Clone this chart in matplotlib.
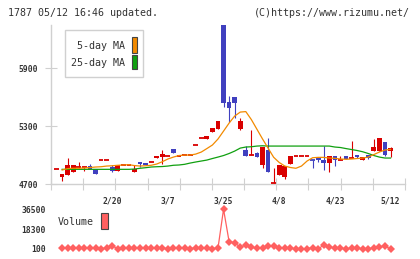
import matplotlib
matplotlib.use("Agg")
import matplotlib.pyplot as plt
import numpy as np
from matplotlib.patches import Rectangle

# ---------------- data ----------------
opens = [4855, 4779, 4801, 4827, 4882, 4882, 4892, 4855, 4948, 4948,
         4882, 4841, 4897, 4903, 4830, 4931, 4920, 4928, 4975, 4986,
         4996, 5065, 4996, 5003, 5003, 5103, 5176, 5172, 5244, 5275,
         6348, 5555, 5603, 5272, 5055, 5000, 5024, 4903, 5055, 4710,
         4799, 4779, 4910, 4993, 4993, 4993, 4955, 4975, 4951, 4923,
         4993, 4955, 4993, 4975, 5003, 4951, 5006, 5048, 5048, 5138,
         5044]
highs = [4855, 4807, 4972, 4900, 4931, 4882, 4910, 4855, 4948, 4948,
         4900, 4900, 4897, 4903, 4897, 4931, 4920, 4928, 4993, 5058,
         4996, 5065, 4996, 5003, 5003, 5103, 5176, 5200, 5286, 5355,
         6348, 5614, 5603, 5383, 5096, 5262, 5034, 5086, 5179, 4869,
         4900, 4892, 4993, 4993, 4993, 4993, 4955, 4975, 5096, 4993,
         4993, 4993, 4993, 5148, 5003, 4982, 5006, 5172, 5179, 5138,
         5089]
lows = [4855, 4737, 4801, 4827, 4866, 4841, 4855, 4807, 4948, 4948,
        4827, 4841, 4897, 4903, 4830, 4876, 4900, 4928, 4975, 4910,
        4996, 5027, 4996, 5003, 5003, 5103, 5176, 5172, 5244, 5275,
        5503, 5348, 5389, 5262, 4993, 5000, 4986, 4872, 4830, 4710,
        4799, 4758, 4910, 4993, 4993, 4993, 4872, 4934, 4848, 4830,
        4892, 4955, 4965, 4975, 4972, 4951, 4959, 5048, 5048, 4993,
        4986]
closes = [4855, 4807, 4900, 4900, 4882, 4882, 4855, 4807, 4948, 4948,
          4841, 4900, 4897, 4903, 4861, 4910, 4900, 4928, 4993, 5017,
          4996, 5027, 4996, 5003, 5003, 5103, 5176, 5200, 5286, 5355,
          5544, 5492, 5544, 5355, 4993, 5000, 4986, 5086, 4830, 4710,
          4900, 4892, 4993, 4993, 4993, 4993, 4951, 4948, 4923, 4993,
          4951, 4955, 4965, 4975, 4986, 4982, 4975, 5086, 5179, 5003,
          5075]

# moving averages and volume, for days 1..60
ma5 = [4848, 4863, 4866, 4866, 4869, 4874, 4879, 4882, 4889, 4892,
       4897, 4900, 4903, 4894, 4889, 4892, 4897, 4910, 4934, 4962,
       4982, 4998, 5003, 5003, 5013, 5034, 5070, 5107, 5169, 5251,
       5334, 5407, 5448, 5453, 5370, 5270, 5170, 5075, 4980, 4926,
       4889, 4874, 4866, 4889, 4941, 4975, 4979, 4979, 4972, 4969,
       4962, 4959, 4962, 4967, 4972, 4982, 5008, 5034, 5055, 5062]
ma25 = [4855, 4855, 4855, 4855, 4855, 4855, 4855, 4855, 4855, 4855,
        4855, 4855, 4855, 4858, 4866, 4872, 4879, 4882, 4884, 4889,
        4897, 4900, 4907, 4920, 4931, 4941, 4951, 4967, 4982, 4998,
        5019, 5044, 5075, 5086, 5089, 5096, 5099, 5096, 5096, 5096,
        5096, 5096, 5096, 5096, 5096, 5096, 5096, 5096, 5096, 5086,
        5081, 5070, 5060, 5050, 5037, 5019, 4998, 4982, 4972, 4972]
volume = [1200, 800, 1400, 700, 1100, 600, 600, 500, 900, 2800,
          500, 700, 600, 800, 1200, 700, 600, 1000, 700, 500,
          800, 600, 900, 500, 1000, 700, 600, 500, 900, 36500,
          6800, 5900, 1700, 3800, 1900, 700, 1300, 2900, 2900, 700,
          1000, 1000, 100, 100, 400, 1300, 100, 3800, 1900, 1000,
          1000, 100, 1000, 1000, 100, 400, 1000, 1900, 2900, 100]

date_pos = [10, 20, 30, 40, 50, 60]
date_labels = ["2/20", "3/7", "3/25", "4/8", "4/23", "5/12"]
price_ticks = [4700, 5300, 5900]
vol_ticks = [100, 18300, 36500]

# ---------------- style ----------------
RED = "#d90000"
BLUE = "#4040bf"
ORANGE = "#f28a00"
GREEN = "#10a010"
VOLC = "#ff6060"
AXC = "#d0d0d0"
TXT = "#333333"
MONO = "DejaVu Sans Mono"

W, H = 420, 259
fig = plt.figure(figsize=(W / 100, H / 100), dpi=100)


def box(x0, y0, x1, y1):
    return [x0 / W, 1 - y1 / H, (x1 - x0) / W, (y1 - y0) / H]


ax = fig.add_axes(box(51, 25, 405, 184.3))
axv = fig.add_axes(box(51, 209.3, 405, 249))

o = np.array(opens, float)
h = np.array(highs, float)
l = np.array(lows, float)
c = np.array(closes, float)
idx = np.arange(len(c))
up = c >= o
col = np.where(up, RED, BLUE)

ax.vlines(idx, l, h, colors=col, lw=0.8, zorder=2)
body_lo = np.minimum(o, c)
body_h = np.abs(c - o)
flat = body_h < 12
ax.bar(idx[~flat], body_h[~flat], bottom=body_lo[~flat], width=0.85,
       color=col[~flat], linewidth=0, zorder=3)
ax.hlines(c[flat], idx[flat] - 0.43, idx[flat] + 0.43, colors=col[flat],
          lw=1.3, zorder=3)

mx = idx[1:]
ax.plot(mx, ma25, color=GREEN, lw=0.9, zorder=4)
ax.plot(mx, ma5, color=ORANGE, lw=0.9, zorder=4)

xlim = (-1.0, 62.6)
ax.set_xlim(*xlim)
ax.set_ylim(4700, 6350)
for s in ("top", "right"):
    ax.spines[s].set_visible(False)
for s in ("left", "bottom"):
    ax.spines[s].set_color(AXC)
    ax.spines[s].set_linewidth(1)
ax.set_yticks(price_ticks)
ax.set_yticklabels([str(v) for v in price_ticks], family=MONO, fontsize=5.8,
                   color=TXT, fontweight="bold")
ax.tick_params(axis="y", direction="inout", length=8, color=AXC, pad=5.5)
ax.set_xticks(np.linspace(xlim[0], xlim[1], 12))
ax.set_xticklabels([])
ax.tick_params(axis="x", which="major", direction="inout", length=8, color=AXC)
ax.set_xticks(date_pos, minor=True)
ax.set_xticklabels(date_labels, minor=True, family=MONO, fontsize=5.8,
                   color=TXT, fontweight="bold")
ax.tick_params(axis="x", which="minor", length=0, pad=9)

# volume panel
axv.plot(mx, volume, color=VOLC, lw=0.9, marker="D", ms=4.2,
         markeredgewidth=0, clip_on=False)
axv.set_xlim(*xlim)
axv.set_ylim(100, 36500)
for s in axv.spines.values():
    s.set_visible(False)
axv.set_xticks([])
axv.set_yticks(vol_ticks)
axv.set_yticklabels([str(v) for v in vol_ticks], family=MONO, fontsize=5.8,
                    color=TXT, fontweight="bold")
axv.tick_params(axis="y", length=0, pad=4)

# header
fig.text(8 / W, 1 - 12.7 / H, "1787 05/12 16:46 updated.", family=MONO,
         fontsize=7.2, color=TXT, ha="left", va="center")
fig.text(410 / W, 1 - 12.7 / H, "(C)https://www.rizumu.net/", family=MONO,
         fontsize=7.2, color=TXT, ha="right", va="center")


def frect(x0, y0, x1, y1, **kw):
    fig.patches.append(Rectangle((x0 / W, 1 - y1 / H), (x1 - x0) / W,
                                 (y1 - y0) / H, transform=fig.transFigure, **kw))


# legend for MAs
frect(65, 30, 143.3, 77.3, facecolor="white", edgecolor=AXC, lw=1, zorder=5)
frect(131.7, 37.3, 137.3, 53.3, facecolor=ORANGE, edgecolor="#444444", lw=0.8, zorder=6)
frect(131.7, 54.8, 137.3, 69.3, facecolor=GREEN, edgecolor="#444444", lw=0.8, zorder=6)
fig.text(125 / W, 1 - 46 / H, "5-day MA", family=MONO, fontsize=7.2,
         color=TXT, ha="right", va="center", zorder=7)
fig.text(125 / W, 1 - 62.7 / H, "25-day MA", family=MONO, fontsize=7.2,
         color=TXT, ha="right", va="center", zorder=7)

# legend for volume
fig.text(58 / W, 1 - 222 / H, "Volume", family=MONO, fontsize=7.2,
         color=TXT, ha="left", va="center")
frect(101, 212.7, 107.7, 228.7, facecolor=VOLC, edgecolor="#444444", lw=0.8, zorder=6)

fig.savefig("out.png", dpi=100)
